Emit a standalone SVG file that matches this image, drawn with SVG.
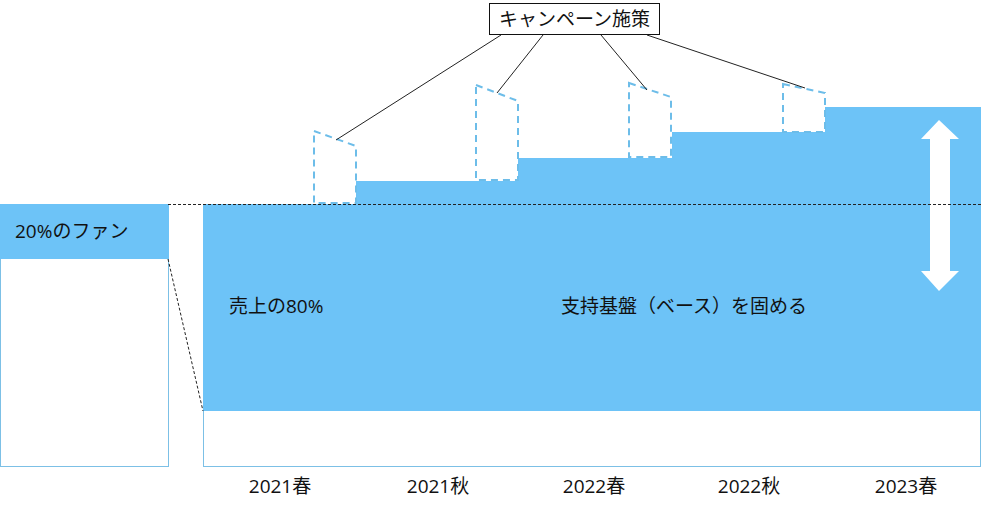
<svg xmlns="http://www.w3.org/2000/svg" width="981" height="511" viewBox="0 0 981 511">
<style>
.fill{fill:#6dc3f7;stroke:none}
.frame{fill:#fff;stroke:#7cc0e6;stroke-width:1}
.dash{fill:#fff;stroke:#6dbde9;stroke-width:2;stroke-dasharray:7 5}
.line{stroke:#222;stroke-width:1;fill:none}
.dot{stroke:#222;stroke-width:1;stroke-dasharray:3 2;fill:none}
text{font-family:"Open Sans","Noto Sans CJK JP",sans-serif;fill:#111;font-size:19px}
</style>
<rect width="981" height="511" fill="#fff"/>
<g id="fan-box">
<rect class="frame" x="0.5" y="204.5" width="168" height="262"/>
<rect class="fill" x="0" y="204" width="169" height="55"/>
<text x="15" y="238">20%のファン</text>
</g>
<g id="chart">
<rect class="frame" x="203.5" y="204.5" width="777" height="262"/>
<path class="fill" d="M203,204 H355 V181 H517 V158 H672 V132 H825 V107 H981 V411 H203 Z"/>
<text x="229" y="313">売上の80%</text>
<text x="561" y="313">支持基盤（ベース）を固める</text>
</g>
<g id="campaign-1"><path class="dash" d="M314,131 L356,146 V203 H314 Z"/></g>
<g id="campaign-2"><path class="dash" d="M476,85 L518,101 V180 H476 Z"/></g>
<g id="campaign-3"><path class="dash" d="M629,83 L671,97 V157 H629 Z"/></g>
<g id="campaign-4"><path class="dash" d="M783,84 L825,93 V132 H783 Z"/></g>
<g id="arrow">
<path fill="#fff" d="M939,120 L959,139 H950 V271 H959 L939,291 L921,271 H930 V139 H921 Z"/>
</g>
<g id="campaign-label">
<rect x="489.5" y="3.5" width="170" height="31" fill="#fff" stroke="#111" stroke-width="1"/>
<text x="574.5" y="26" text-anchor="middle">キャンペーン施策</text>
</g>
<g id="connectors">
<line class="line" x1="501" y1="35" x2="336" y2="140"/>
<line class="line" x1="543" y1="35" x2="497" y2="93"/>
<line class="line" x1="601" y1="35" x2="647" y2="90"/>
<line class="line" x1="647" y1="35" x2="805" y2="88"/>
<line class="dot" x1="168" y1="204.5" x2="981" y2="204.5"/>
<line class="dot" x1="168" y1="259" x2="203" y2="411"/>
</g>
<g id="axis-labels">
<text x="280" y="493" text-anchor="middle">2021春</text>
<text x="438" y="493" text-anchor="middle">2021秋</text>
<text x="594" y="493" text-anchor="middle">2022春</text>
<text x="749" y="493" text-anchor="middle">2022秋</text>
<text x="906" y="493" text-anchor="middle">2023春</text>
</g>
</svg>
